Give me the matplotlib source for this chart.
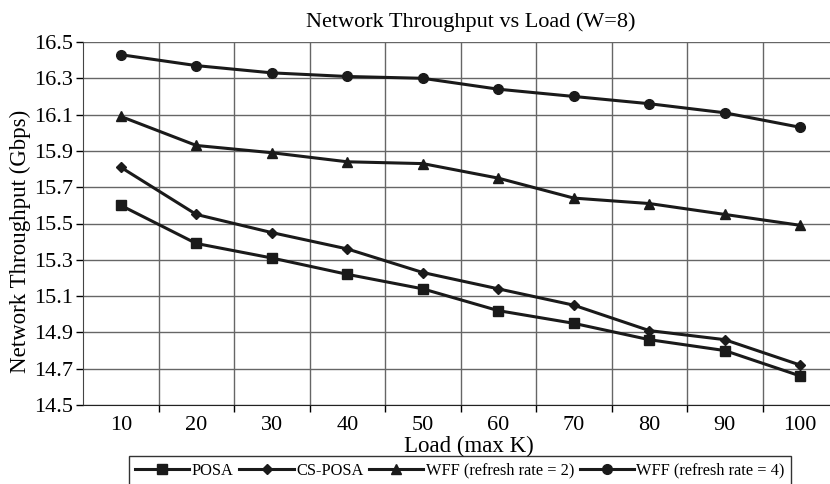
import matplotlib
matplotlib.use('Agg')
import matplotlib.pyplot as plt

plt.rcParams['font.family'] = ['Liberation Serif', 'DejaVu Serif']

# data
load = [10, 20, 30, 40, 50, 60, 70, 80, 90, 100]
posa = [15.60, 15.39, 15.31, 15.22, 15.14, 15.02, 14.95, 14.86, 14.80, 14.66]
cs_posa = [15.81, 15.55, 15.45, 15.36, 15.23, 15.14, 15.05, 14.91, 14.86, 14.72]
wff2 = [16.09, 15.93, 15.89, 15.84, 15.83, 15.75, 15.64, 15.61, 15.55, 15.49]
wff4 = [16.43, 16.37, 16.33, 16.31, 16.30, 16.24, 16.20, 16.16, 16.11, 16.03]
yticks = [14.5, 14.7, 14.9, 15.1, 15.3, 15.5, 15.7, 15.9, 16.1, 16.3, 16.5]

fig = plt.figure(figsize=(8.3, 4.84), dpi=100)
# right spine falls outside the picture in the original (cropped)
ax = fig.add_axes([83/830, 1 - 405/484, (838 - 83)/830, (405 - 42)/484])

col = '#1a1a1a'
lw = 2.2
ax.plot(load, posa, color=col, lw=lw, marker='s', ms=7, label='POSA')
ax.plot(load, cs_posa, color=col, lw=lw, marker='D', ms=5, label='CS-POSA')
ax.plot(load, wff2, color=col, lw=lw, marker='^', ms=7, label='WFF (refresh rate = 2)')
ax.plot(load, wff4, color=col, lw=lw, marker='o', ms=7, label='WFF (refresh rate = 4)')

ax.set_xlim(5, 105)
ax.set_ylim(14.5, 16.5)
ax.set_yticks(yticks)
ax.set_yticklabels([f'{v:.1f}' for v in yticks])
ax.set_xticks(load)
ax.set_xticklabels([str(v) for v in load])
ax.tick_params(axis='x', length=0, labelsize=16, pad=8)
# tick marks and grid lines sit between categories
ax.set_xticks([v + 5 for v in load[:-1]], minor=True)
ax.tick_params(axis='x', which='minor', length=5, width=1, direction='out')
ax.tick_params(axis='y', length=5, width=1, labelsize=16, pad=2)
ax.grid(True, axis='y', which='major', color='#666666', lw=1)
ax.grid(True, axis='x', which='minor', color='#666666', lw=1)
ax.set_axisbelow(True)

for s in ['top', 'right']:
    ax.spines[s].set_visible(False)
ax.spines['left'].set_color('#444444')
ax.spines['bottom'].set_color('#222222')

ax.set_title('Network Throughput vs Load (W=8)', fontsize=16, pad=11, x=(471 - 83)/755)
ax.set_xlabel('Load (max K)', fontsize=16.5)
ax.xaxis.set_label_coords((469 - 83)/755, -0.085)
ax.set_ylabel('Network Throughput (Gbps)', fontsize=16.5)
ax.yaxis.set_label_coords((31 - 83)/755, (405 - 241)/363)

leg = fig.legend(loc='upper center', bbox_to_anchor=(460/830, 1 - 456/484), ncol=4,
                 fontsize=11.8, frameon=True, fancybox=False, handlelength=3.3,
                 handletextpad=0.15, columnspacing=0.35, borderpad=0.4,
                 borderaxespad=0)
leg.get_frame().set_edgecolor('black')
leg.get_frame().set_linewidth(1)

fig.savefig('out.png', dpi=100)
